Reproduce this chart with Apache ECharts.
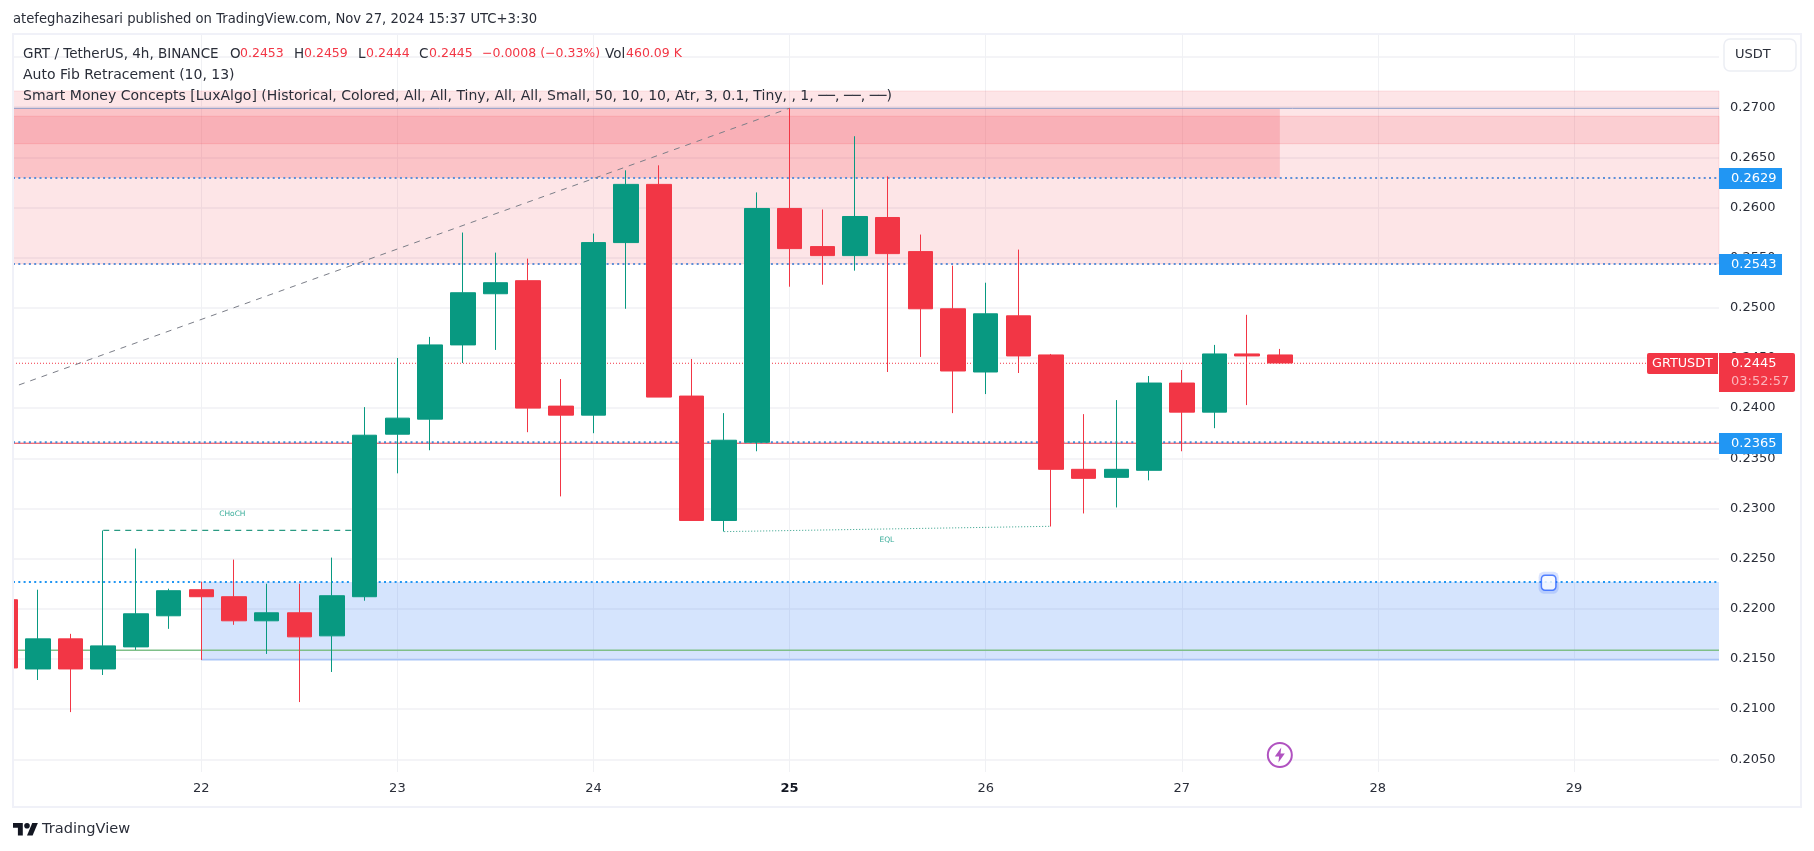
<!DOCTYPE html>
<html><head><meta charset="utf-8">
<style>html,body{margin:0;padding:0;background:#fff;overflow:hidden}#c{width:1814px;height:851px}</style>
<script src="https://cdn.jsdelivr.net/npm/echarts@6/dist/echarts.min.js"></script>
</head><body><div id="c"></div>
<script>
const candleHours=[0,4,8,12,16,20,24,28,32,36,40,44,48,52,56,60,64,68,72,76,80,84,88,92,96,100,104,108,112,116,120,124,128,132,136,140,144,148,152,156];
const opens =[.2209,.2140,.2170,.2140,.2162,.2193,.2219,.2212,.2188,.2196,.2173,.2212,.2374,.2389,.2463,.2514,.2527,.2402,.2393,.2565,.2623,.2412,.2288,.2366,.2599,.2561,.2552,.2590,.2556,.2499,.2436,.2492,.2453,.2339,.2331,.2338,.2425,.2396,.2454,.2453];
const closes=[.2141,.2170,.2140,.2163,.2195,.2218,.2212,.2188,.2196,.2172,.2213,.2373,.2390,.2463,.2515,.2525,.2400,.2393,.2565,.2623,.2411,.2288,.2368,.2599,.2559,.2552,.2591,.2554,.2499,.2437,.2494,.2452,.2339,.2330,.2339,.2425,.2396,.2454,.2452,.2445];
const lows  =[.2141,.2129,.2097,.2134,.2159,.2180,.2149,.2184,.2155,.2107,.2137,.2208,.2335,.2358,.2445,.2458,.2376,.2312,.2375,.2499,.2411,.2288,.2277,.2357,.2521,.2523,.2537,.2436,.2451,.2395,.2414,.2435,.2282,.2295,.2301,.2328,.2357,.2380,.2403,.2444];
const highs =[.2209,.2219,.2175,.2278,.2260,.2220,.2227,.2249,.2225,.2225,.2251,.2401,.2450,.2471,.2575,.2555,.2549,.2429,.2574,.2637,.2642,.2449,.2395,.2615,.2699,.2598,.2671,.2631,.2573,.2542,.2525,.2558,.2454,.2394,.2408,.2432,.2438,.2463,.2493,.2459];
const yTicks=[.275,.27,.265,.26,.255,.25,.245,.24,.235,.23,.225,.22,.215,.21,.205];
const dayTicks=[24,48,72,96,120,144,168,192];
const xMin=0.955,xMax=209.75,yMin=.20373,yMax=.27729;
const supplyZone=[xMin,xMax,.25437,.27161];
const supplyBand=[xMin,xMax,.26636,.26909];
const orderBlock=[xMin,156,.26294,.26988];
const demandZone=[24,xMax,.21493,.22267];
const levelsBlue=[.26294,.25437,.2366,.22267];
const levelsBlueColors=['#5d8fd8','#5d8fd8','#3f8fd8','#2196f3'];
const levelsRed=[.2365];
const levelTop=.26988;
const levelGreen=.21586;
const lastPrice=.24447;
const fibLine=[[1.68,.24231],[96,.2699]];
const chochLine=[[12,.22782],[44,.22782]];
const eqlLine=[[88,.22769],[128,.22822]];
const textMarks=[[27.8,.22945,'CHoCH'],[107.9,.22682,'EQL']];
const handlePoint=[188.9,.2226];
const boltPoint=[156,.20543];
const blueTags=[.2629,.2543,.2365];
const tagY=[.26294,.25437,.23652];
const legendPieces=[
 ['GRT / TetherUS, 4h, BINANCE',23,0],['O',230,0],['0.2453',240,1],['H',294,0],['0.2459',304,1],['L',358,0],['0.2444',366,1],
 ['C',419,0],['0.2445',429,1],['−0.0008 (−0.33%)',482,1],['Vol',605,0],['460.09 K',626,1]];
const FONT='"DejaVu Sans"';
const FS=13;
const TXT='#2a2e39',RED='#f23645',GRN='#089981',BLUE='#2196f3';

function area(r,color,border){return [{coord:[r[0],r[3]],itemStyle:{color:color,borderColor:border||'transparent',borderWidth:border?1:0}},{coord:[r[1],r[2]]}];}
function hline(v,color,type,width,z){return {type:'line',silent:true,symbol:'none',animation:false,z:z||2,data:[[xMin,v],[xMax,v]],lineStyle:{color:color,type:type,width:width}};}
function seg(pts,color,type,width){return {type:'line',silent:true,symbol:'none',animation:false,z:2,data:pts,lineStyle:{color:color,type:type,width:width}};}

const series=[
 {type:'line',silent:true,animation:false,z:1,data:[],markArea:{silent:true,animation:false,data:[
   area(supplyZone,'rgba(242,54,69,0.13)','rgba(242,54,69,0.12)'),
   area(supplyBand,'rgba(242,54,69,0.13)','rgba(242,54,69,0.15)'),
   area(orderBlock,'rgba(247,60,75,0.2)'),
   area(demandZone,'rgba(33,110,245,0.19)')
 ]}},
 hline(levelTop,'#8a9bc8','solid',1),
 hline(levelGreen,'#7fbf88','solid',1.5),
 seg([[24,.21493],[xMax,.21493]],'#a9c5f7','solid',1.5)
];
levelsRed.forEach(v=>series.push(hline(v,RED,'solid',1)));
levelsBlue.forEach((v,i)=>series.push(hline(v,levelsBlueColors[i],[2,3.3],2)));
series.push(hline(lastPrice,RED,[1,2],1));
series.push(seg(fibLine,'#7b7e88',[6,6],1));
series.push(seg(chochLine,'#2a9a82',[6,5],1.2));
series.push(seg(eqlLine,'#2f9f88',[1,2],1));
series.push({type:'candlestick',z:3,animation:false,silent:true,barWidth:25,clip:true,
  encode:{x:0,y:[1,2,3,4]},
  data:candleHours.map((h,i)=>[h,opens[i],closes[i],lows[i],highs[i]]),
  itemStyle:{color:GRN,color0:RED,borderColor:GRN,borderColor0:RED,borderWidth:1}});
series.push({type:'scatter',z:4,silent:true,animation:false,symbolSize:0,
  data:textMarks.map(t=>({value:[t[0],t[1]],name:t[2]})),
  label:{show:true,position:'inside',formatter:p=>p.name,fontSize:7.5,fontFamily:FONT,color:GRN}});
series.push({type:'scatter',z:4,silent:true,animation:false,data:[handlePoint],symbol:'roundRect',symbolSize:[20,22],itemStyle:{color:'rgba(41,98,255,0.22)'}});
series.push({type:'scatter',z:5,silent:true,animation:false,data:[handlePoint],symbol:'roundRect',symbolSize:[14.5,15],itemStyle:{color:'#fff',borderColor:'#2962ff',borderWidth:1.5}});
series.push({type:'scatter',z:4,silent:true,animation:false,data:[boltPoint],symbol:'circle',symbolSize:24,itemStyle:{color:'#fff',borderColor:'#9c27b0',borderWidth:2}});
series.push({type:'scatter',z:5,silent:true,animation:false,data:[boltPoint],symbol:'path://M13 2L4 14h6l-1 8 9-12h-6z',symbolSize:[10,15],itemStyle:{color:'#9c27b0'}});

const chart=echarts.init(document.getElementById('c'),null,{renderer:'canvas'});
chart.setOption({
 backgroundColor:'#fff',animation:false,
 grid:{left:13,right:95,top:34,bottom:79,containLabel:false},
 xAxis:{type:'value',min:xMin,max:xMax,
   axisLine:{show:false},axisTick:{show:false,customValues:dayTicks},
   axisLabel:{customValues:dayTicks,margin:10,fontFamily:FONT,fontSize:FS,color:TXT,
     formatter:v=>{const d=21+v/24;return d===25?'{b|25}':String(d);},rich:{b:{fontWeight:'bold',fontSize:FS,fontFamily:FONT,color:'#131722'}}},
   splitLine:{show:true,lineStyle:{color:'#f0f1f4',width:1}}},
 yAxis:{type:'value',position:'right',min:yMin,max:yMax,
   axisLine:{show:false},axisTick:{show:false,customValues:yTicks},
   axisLabel:{customValues:yTicks,margin:11,fontFamily:FONT,fontSize:FS,color:TXT,formatter:v=>v.toFixed(4)},
   splitLine:{show:true,lineStyle:{color:'#f0f1f4',width:1.5}}},
 series:series
});

function buildGraphic(){
 const py=v=>chart.convertToPixel({yAxisIndex:0},v);
 const f=FS+'px '+FONT;
 const els=[];
 els.push({type:'rect',z:19,silent:true,shape:{x:0,y:34,width:13,height:773},style:{fill:'#fff'}});
 els.push({type:'rect',z:20,shape:{x:13,y:34,width:1788,height:773},style:{fill:null,stroke:'#f0f1f8',lineWidth:2},silent:true});
 els.push({type:'text',z:20,x:13,y:20,style:{text:'atefeghazihesari published on TradingView.com, Nov 27, 2024 15:37 UTC+3:30',font:'13.2px '+FONT,fill:TXT,verticalAlign:'middle'}});
 legendPieces.forEach(p=>els.push({type:'text',z:20,x:p[1],y:54,style:{text:p[0],font:(p[2]?'12.5px ':'13.5px ')+FONT,fill:p[2]?RED:TXT,verticalAlign:'middle'}}));
 els.push({type:'text',z:20,x:23,y:75,style:{text:'Auto Fib Retracement (10, 13)',font:'14px '+FONT,fill:TXT,verticalAlign:'middle'}});
 els.push({type:'text',z:20,x:23,y:96,style:{text:'Smart Money Concepts [LuxAlgo] (Historical, Colored, All, All, Tiny, All, All, Small, 50, 10, 10, Atr, 3, 0.1, Tiny, , 1, ──, ──, ──)',font:'14px '+FONT,fill:TXT,verticalAlign:'middle'}});
 els.push({type:'rect',z:20,shape:{x:1724,y:39,width:72,height:32,r:6},style:{fill:'#fff',stroke:'#eceef4',lineWidth:1.5}});
 els.push({type:'text',z:21,x:1735,y:55,style:{text:'USDT',font:f,fill:TXT,verticalAlign:'middle'}});
 blueTags.forEach((v,i)=>{const y=py(tagY[i]);
   els.push({type:'rect',z:20,shape:{x:1719,y:Math.round(y-10),width:63,height:21},style:{fill:BLUE}});
   els.push({type:'text',z:21,x:1731,y:Math.round(y)+.5,style:{text:v.toFixed(4),font:f,fill:'#fff',verticalAlign:'middle'}});
 });
 const ly=py(lastPrice);
 els.push({type:'rect',z:20,shape:{x:1647,y:Math.round(ly-10),width:71,height:21,r:[2,0,0,2]},style:{fill:RED}});
 els.push({type:'text',z:21,x:1652,y:Math.round(ly)+.5,style:{text:'GRTUSDT',font:'12.8px '+FONT,fill:'#fff',verticalAlign:'middle'}});
 els.push({type:'rect',z:20,shape:{x:1719,y:Math.round(ly-10),width:76,height:39,r:[0,2,2,0]},style:{fill:RED}});
 els.push({type:'text',z:21,x:1731,y:Math.round(ly)+.5,style:{text:lastPrice.toFixed(4),font:f,fill:'#fff',verticalAlign:'middle'}});
 els.push({type:'text',z:21,x:1731,y:Math.round(ly)+18.5,style:{text:'03:52:57',font:f,fill:'#fbb4ba',verticalAlign:'middle'}});
 const k=.7,ox=13,oy=818,pt=a=>a.map(p=>[ox+p[0]*k,oy+p[1]*k]);
 els.push({type:'polygon',z:20,shape:{points:pt([[14,25],[7,25],[7,14],[0,14],[0,7],[14,7]])},style:{fill:'#131722'}});
 els.push({type:'polygon',z:20,shape:{points:pt([[28,25],[20,25],[27.5,7],[35.5,7]])},style:{fill:'#131722'}});
 els.push({type:'circle',z:20,shape:{cx:ox+20*k,cy:oy+11*k,r:4*k},style:{fill:'#131722'}});
 els.push({type:'text',z:20,x:42,y:829,style:{text:'TradingView',font:'14.6px '+FONT,fill:'#2a2e39',verticalAlign:'middle'}});
 chart.setOption({graphic:{elements:els}});
}
buildGraphic();
</script></body></html>
